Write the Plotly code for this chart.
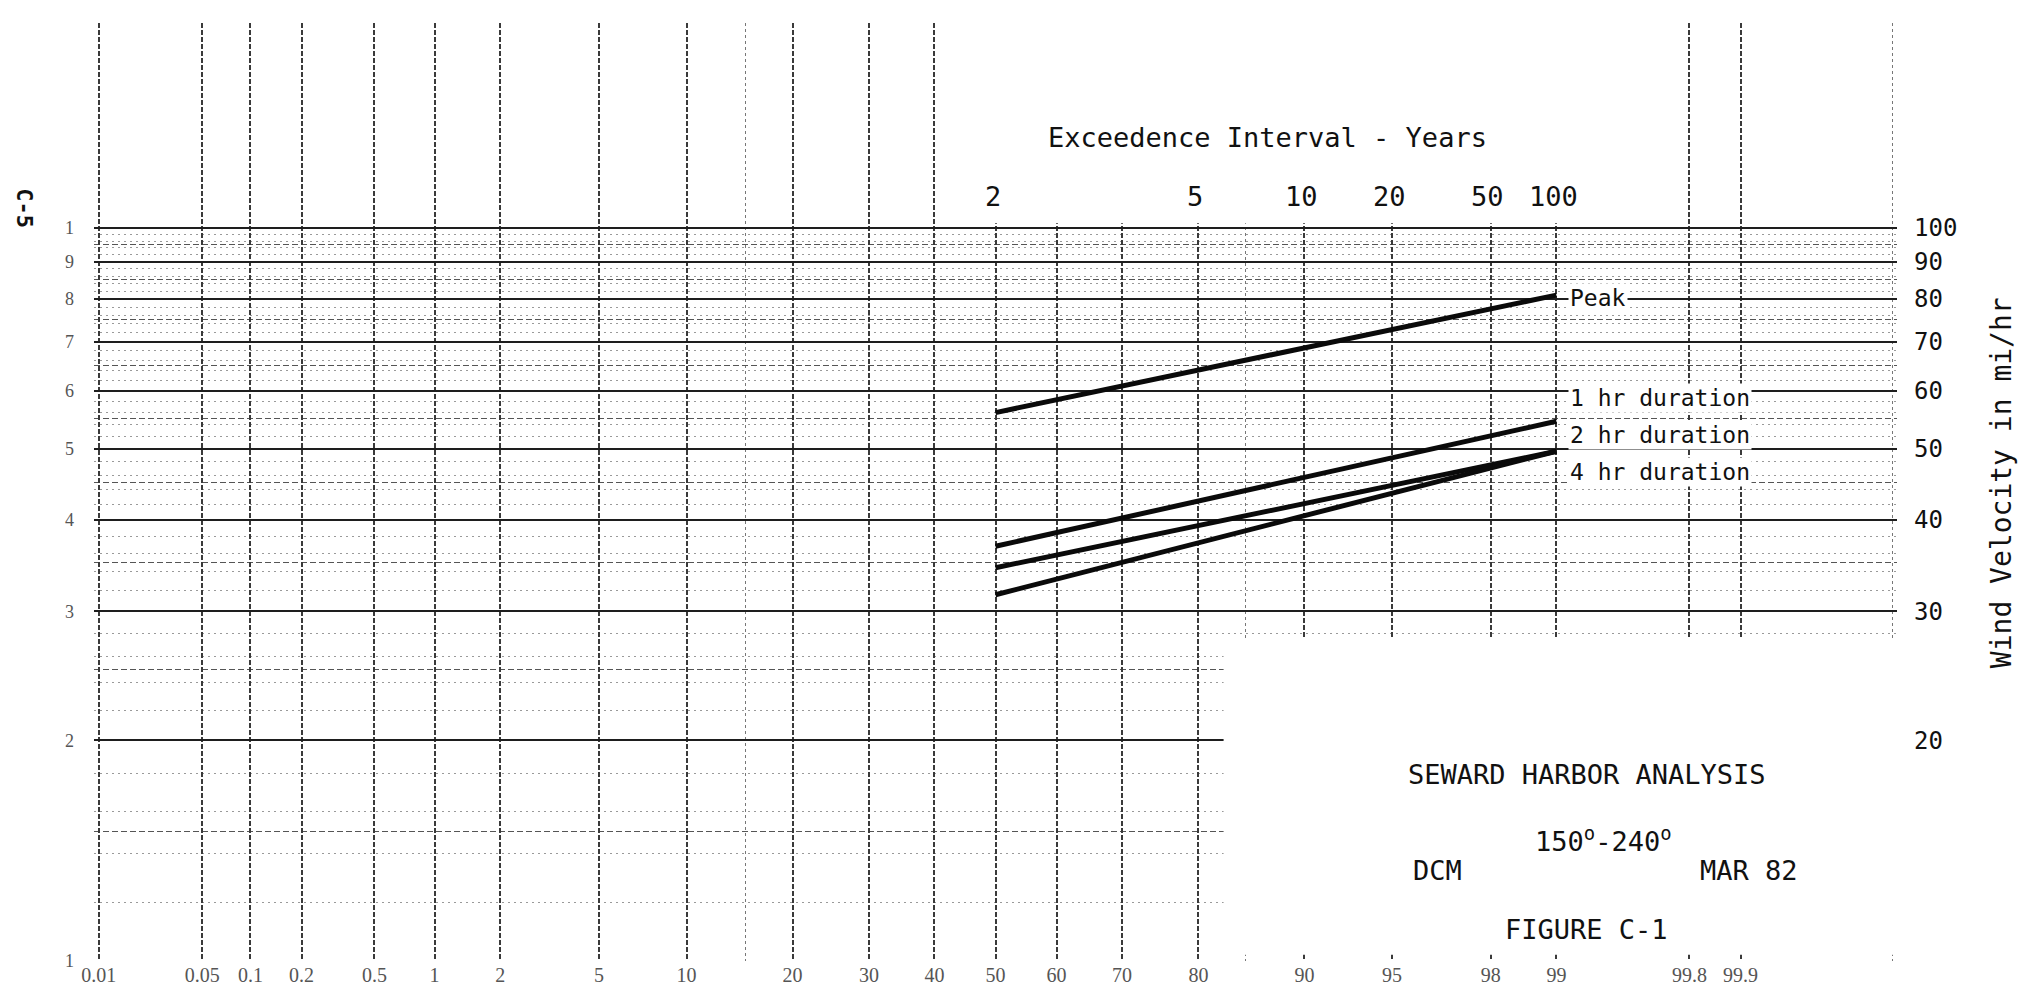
import math
from statistics import NormalDist
import plotly.graph_objects as go

# ---------------- data ----------------
return_period_years = [2, 100]
peak = [56, 81]
dur_1hr = [36.8, 54.5]
dur_2hr = [34.4, 49.6]
dur_4hr = [31.6, 49.6]
series_names = ["Peak", "1 hr duration", "2 hr duration", "4 hr duration"]

prob_ticks = [0.01, 0.05, 0.1, 0.2, 0.5, 1, 2, 5, 10, 20, 30, 40, 50,
              60, 70, 80, 90, 95, 98, 99, 99.8, 99.9]
prob_labels = ["0.01", "0.05", "0.1", "0.2", "0.5", "1", "2", "5", "10", "20",
               "30", "40", "50", "60", "70", "80", "90", "95", "98", "99",
               "99.8", "99.9"]
prob_minor = [15, 85, 99.99]
interval_ticks = [2, 5, 10, 20, 50, 100]
interval_labels = ["2", "5", "10", "20", "50", "100"]
velocity_ticks = [10, 20, 30, 40, 50, 60, 70, 80, 90, 100]
left_labels = ["1", "2", "3", "4", "5", "6", "7", "8", "9", "1"]
right_ticks = [20, 30, 40, 50, 60, 70, 80, 90, 100]
right_labels = ["20", "30", "40", "50", "60", "70", "80", "90", "100"]
velocity_mid = [15, 25, 35, 45, 55, 65, 75, 85, 95]
velocity_fine = [12, 14, 16, 18, 22, 24, 26, 28, 32, 34, 36, 38, 42, 44, 46, 48,
                 52, 54, 56, 58, 62, 64, 66, 68, 72, 74, 76, 78, 82, 84, 86, 88,
                 92, 94, 96, 98]

# ---------------- scales ----------------
nd = NormalDist()


def zp(pct):
    """normal-probability paper coordinate of a percentage"""
    return nd.inv_cdf(pct / 100.0)


def zT(T):
    """coordinate of an exceedence interval (years)"""
    return zp(100.0 * (1.0 - 1.0 / T))


MONO = "DejaVu Sans Mono"
x_rng = [zp(0.01) - 0.02, zp(99.99) + 0.02]
y_rng = [1.0, 2.2797]

fig = go.Figure()
xs = [zT(t) for t in return_period_years]
for name, vals in zip(series_names, [peak, dur_1hr, dur_2hr, dur_4hr]):
    fig.add_trace(go.Scatter(x=xs, y=vals, mode="lines", name=name,
                             line=dict(color="#0a0a0a", width=5),
                             showlegend=False, xaxis="x", yaxis="y",
                             hoverinfo="x+y"))
# transparent carrier so that the right-hand scale is drawn
fig.add_trace(go.Scatter(x=xs, y=peak, mode="lines", xaxis="x", yaxis="y2",
                         line=dict(width=0, color="rgba(0,0,0,0)"),
                         hoverinfo="skip", showlegend=False))

fig.update_layout(
    width=2026, height=988,
    margin=dict(l=86, r=137, t=15, b=35),
    paper_bgcolor="white", plot_bgcolor="white",
    template="none",
    showlegend=False,
    xaxis=dict(
        range=x_rng, showline=False, zeroline=False, ticks="",
        tickvals=[zp(p) for p in prob_ticks], ticktext=prob_labels,
        tickfont=dict(family="Liberation Serif", size=20, color="#555"),
        showgrid=True, gridcolor="#3a3a3a", gridwidth=1.6, griddash="5px,2px",
        minor=dict(tickvals=[zp(p) for p in prob_minor], showgrid=True,
                   gridcolor="#777", gridwidth=1, griddash="3px,3px"),
        automargin=False,
    ),
    yaxis=dict(
        type="log", range=y_rng, showline=False, zeroline=False, ticks="",
        tickvals=velocity_ticks, ticktext=left_labels,
        tickfont=dict(family="Liberation Serif", size=18, color="#555"),
        ticklabelstandoff=19,
        showgrid=True, gridcolor="#1e1e1e", gridwidth=2.2,
        minor=dict(tickvals=velocity_mid, showgrid=True, gridcolor="#555",
                   gridwidth=1.2, griddash="6px,3px"),
        automargin=False,
    ),
    yaxis2=dict(
        type="log", range=y_rng, overlaying="y", side="right", anchor="x",
        showline=False, zeroline=False, ticks="", showgrid=False,
        tickvals=right_ticks, ticktext=right_labels,
        tickfont=dict(family=MONO, size=24, color="#111"),
        ticklabelstandoff=16,
        minor=dict(tickvals=velocity_fine, showgrid=True, gridcolor="#9a9a9a",
                   gridwidth=1, griddash="2px,4px"),
        automargin=False,
    ),
)

# white areas of the paper (label block and header); shapes take data values
fig.add_shape(type="rect", xref="x", yref="y", layer="between",
              x0=0.946, x1=x_rng[1], y0=10.2, y1=27.5,
              fillcolor="white", line=dict(width=0))
fig.add_shape(type="rect", xref="x", yref="y", layer="between",
              x0=-0.16, x1=2.52, y0=101.5, y1=10 ** y_rng[1],
              fillcolor="white", line=dict(width=0))

# top scale: exceedence interval in years, placed on the probability scale
for t, lab in zip(interval_ticks, interval_labels):
    fig.add_annotation(x=zT(t), y=0.792, xref="x", yref="paper", text=lab,
                       showarrow=False, xanchor="center", yanchor="bottom",
                       yshift=4, xshift=-3,
                       font=dict(family=MONO, size=27, color="#111"))

# series labels
label_log_y = [1.9045, 1.768, 1.718, 1.667]
for name, ly in zip(series_names, label_log_y):
    fig.add_annotation(x=zT(return_period_years[-1]), y=ly, xref="x", yref="y",
                       text=name, showarrow=False, xanchor="left", yanchor="middle",
                       xshift=12, bgcolor="white", borderpad=1,
                       font=dict(family=MONO, size=23, color="#111"))

texts = [
    dict(text="Exceedence Interval - Years", x=0.651, y=0.878, size=27, angle=0),
    dict(text="SEWARD HARBOR ANALYSIS", x=0.828, y=0.199, size=27, angle=0),
    dict(text="150<sup>o</sup>-240<sup>o</sup>", x=0.837, y=0.129, size=27, angle=0),
    dict(text="DCM", x=0.745, y=0.097, size=27, angle=0),
    dict(text="MAR 82", x=0.918, y=0.097, size=27, angle=0),
    dict(text="FIGURE C-1", x=0.828, y=0.034, size=27, angle=0),
    dict(text="<b>C-5</b>", x=-0.0385, y=0.803, size=22, angle=90),
    dict(text="Wind Velocity in mi/hr", x=1.058, y=0.51, size=28, angle=-90),
]
for t in texts:
    fig.add_annotation(x=t["x"], y=t["y"], xref="paper", yref="paper",
                       text=t["text"], showarrow=False, textangle=t["angle"],
                       xanchor="center", yanchor="middle",
                       font=dict(family=MONO, size=t["size"], color="#111"))

fig.write_html("out.html")
